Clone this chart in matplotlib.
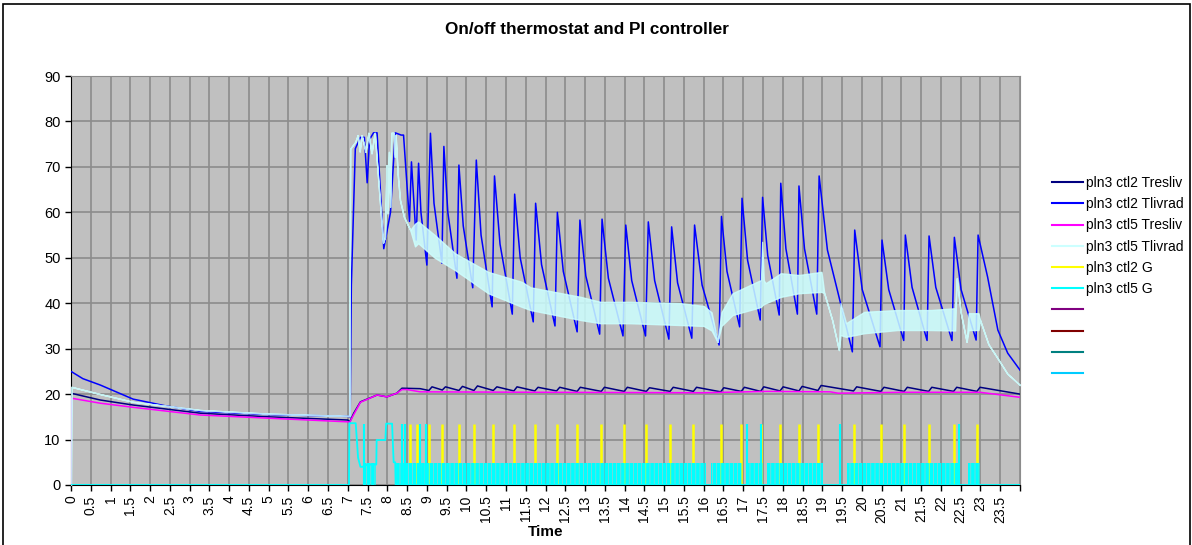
"""On/off thermostat and PI controller - temperatures and gains over a day"""
import matplotlib
matplotlib.use("Agg")
import matplotlib.pyplot as plt
from matplotlib.lines import Line2D
from matplotlib.patches import Rectangle
import numpy as np

plt.rcParams['font.family'] = ['Liberation Sans', 'DejaVu Sans']
plt.rcParams['hatch.linewidth'] = 2.6

# ---- data (time in hours) ----
# pln3 ctl2 Tresliv
res2_t = [0, 0.74, 1.57, 3.27, 5, 7.0, 7.05, 7.15, 7.32, 7.74, 7.99, 8.24, 8.37, 8.83,
          9.05, 9.13, 9.39, 9.47, 9.81, 9.9, 10.19, 10.28, 10.68, 10.77, 11.2, 11.28,
          11.73, 11.81, 12.28, 12.36, 12.8, 12.88, 13.41, 13.49, 13.99, 14.07, 14.55, 14.63,
          15.15, 15.23, 15.74, 15.82, 16.43, 16.51, 16.95, 17.03, 17.44, 17.52, 17.93, 18.01,
          18.41, 18.49, 18.89, 18.97, 19.79, 19.87, 20.48, 20.56, 21.07, 21.15, 21.69, 21.77,
          22.32, 22.4, 22.91, 22.99, 24.0]
res2_v = [20.2, 18.7, 17.6, 15.8, 15.0, 14.3, 13.9, 15.8, 18.3, 19.8, 19.4, 20.2, 21.3, 21.2,
          20.8, 21.6, 20.9, 21.6, 20.8, 21.7, 20.8, 21.8, 20.8, 21.6, 20.7, 21.6,
          20.7, 21.5, 20.7, 21.5, 20.6, 21.5, 20.6, 21.5, 20.6, 21.5, 20.6, 21.4,
          20.6, 21.5, 20.6, 21.5, 20.5, 21.4, 20.6, 21.5, 20.6, 21.6, 20.7, 21.6,
          20.7, 21.7, 20.8, 21.9, 20.7, 21.6, 20.6, 21.5, 20.6, 21.5, 20.6, 21.5,
          20.6, 21.5, 20.6, 21.5, 20.0]

# pln3 ctl2 Tlivrad
liv2_t = [0, 0.3, 0.74, 1.57, 2.4, 3.27, 5, 7.0, 7.06, 7.09, 7.19, 7.32, 7.42, 7.49, 7.55, 7.65,
          7.74, 7.91, 8.08, 8.2, 8.35, 8.41, 8.56, 8.61, 8.73, 8.79, 8.85, 9.0,
          9.09, 9.18, 9.38, 9.43, 9.53, 9.76, 9.81, 9.92, 10.16, 10.25, 10.37, 10.65,
          10.71, 10.85, 11.16, 11.22, 11.36, 11.69, 11.75, 11.9, 12.24, 12.3, 12.45, 12.8,
          12.87, 13.02, 13.37, 13.43, 13.59, 13.96, 14.03, 14.18, 14.53, 14.6, 14.76, 15.12,
          15.19, 15.34, 15.7, 15.77, 15.96, 16.39, 16.45, 16.59, 16.91, 16.97, 17.11, 17.43,
          17.49, 17.62, 17.91, 17.95, 18.08, 18.37, 18.41, 18.55, 18.86, 18.92, 19.13, 19.38,
          19.76, 19.82, 20.01, 20.46, 20.51, 20.68, 21.06, 21.1, 21.27, 21.65, 21.7, 21.87,
          22.28, 22.34, 22.51, 22.89, 22.94, 23.18, 23.44, 23.69, 24.0]
liv2_v = [25.0, 23.4, 22.0, 18.9, 17.4, 16.2, 15.5, 15.1, 15.0, 44.0, 74.0, 76.5, 76.5, 66.5, 76.0, 77.5,
          77.5, 52.0, 60.0, 77.5, 77.0, 77.0, 58.0, 71.1, 53.9, 70.8, 60.0, 48.4,
          77.4, 62.0, 48.8, 74.5, 60.0, 45.5, 70.4, 57.0, 43.4, 71.5, 55.0, 39.2,
          68.0, 53.0, 37.6, 64.0, 50.0, 35.9, 62.0, 48.5, 35.0, 60.0, 47.0, 33.7,
          58.3, 46.0, 33.2, 58.5, 45.5, 32.8, 57.2, 45.0, 32.8, 57.9, 45.0, 32.1,
          56.8, 44.5, 32.3, 57.2, 44.0, 30.8, 59.1, 47.0, 34.8, 63.1, 49.5, 36.3,
          63.3, 50.5, 37.4, 66.4, 52.0, 37.6, 65.8, 52.0, 37.6, 68.0, 51.7, 42.9,
          29.3, 56.1, 43.0, 30.4, 53.9, 43.0, 31.8, 55.0, 43.5, 31.8, 54.8, 43.5,
          31.8, 54.5, 43.0, 31.9, 55.0, 45.8, 34.1, 29.0, 25.3]

# pln3 ctl5 Tresliv
res5_t = [0, 0.01, 0.74, 1.57, 3.27, 5, 7.0, 7.05, 7.15, 7.32, 7.74, 7.99, 8.24, 8.37, 8.5,
          8.83, 12.0, 16.0, 17.6, 19.2, 19.4, 21.0, 22.99, 24.0]
res5_v = [0, 19.1, 18.0, 17.1, 15.4, 14.7, 13.9, 13.8, 15.5, 18.2, 19.8, 19.4, 20.2, 21.0, 21.0,
          20.5, 20.4, 20.3, 20.6, 20.5, 20.2, 20.4, 20.4, 19.3]

# pln3 ctl5 Tlivrad : dense oscillation shown as low / high envelope
liv5_t = [0, 0.01, 0.74, 1.57, 3.27, 5, 7.0, 7.04, 7.06, 7.19, 7.25, 7.3, 7.35, 7.45, 7.52,
          7.6, 7.68, 7.89, 7.94, 7.98, 8.0, 8.04, 8.07, 8.1, 8.16, 8.19, 8.21, 8.26, 8.32,
          8.42, 8.58, 8.7, 8.78, 9.2, 9.71, 10.55, 11.4, 11.62, 12.89, 13.39, 14.15, 15.42,
          16.0, 16.2, 16.35, 16.45, 16.73, 17.3, 17.45, 17.48, 17.52, 17.57, 17.95, 18.41,
          18.98, 19.05, 19.25, 19.42, 19.46, 19.6, 20.06, 20.9, 21.75, 22.36, 22.4, 22.5,
          22.65, 22.7, 22.95, 22.99, 23.2, 23.41, 23.68, 24.0]
liv5_lo = [0, 21.6, 20.0, 18.3, 16.5, 15.7, 15.2, 15.2, 74.0, 75.5, 77.0, 73.4, 77.0, 73.3, 77.5,
           73.0, 77.5, 53.3, 54.6, 70.4, 59.8, 73.3, 61.2, 77.5, 77.5, 72.2, 77.0, 68.6, 62.7,
           59.0, 56.1, 52.5, 53.2, 50.0, 47.3, 42.2, 39.2, 38.5, 36.3, 35.6, 35.6, 35.2,
           35.0, 34.0, 31.5, 35.0, 37.4, 38.8, 39.2, 39.5, 39.8, 40.0, 41.4, 42.2,
           42.5, 42.2, 36.3, 29.7, 33.0, 32.6, 33.4, 34.1, 34.1, 34.0, 45.5, 38.0,
           31.5, 34.1, 34.1, 36.3, 31.0, 28.2, 24.5, 22.0]
liv5_hi = [0, 21.6, 20.0, 18.3, 16.5, 15.7, 15.2, 15.2, 74.0, 75.5, 77.0, 73.4, 77.0, 73.3, 77.5,
           73.0, 77.5, 53.3, 54.6, 70.4, 59.8, 73.3, 61.2, 77.5, 77.5, 72.2, 77.0, 68.6, 62.7,
           59.0, 56.1, 57.5, 58.0, 55.0, 51.0, 46.9, 44.7, 43.5, 41.4, 40.3, 40.3, 40.0,
           39.4, 38.0, 31.5, 38.0, 42.2, 44.5, 45.1, 53.5, 45.0, 44.4, 46.6, 46.2,
           46.9, 42.2, 36.3, 29.7, 40.0, 35.6, 38.1, 38.5, 38.5, 38.9, 45.5, 38.0,
           31.5, 37.8, 37.8, 36.3, 31.0, 28.2, 24.5, 22.0]

# pln3 ctl2 G : on pulses
g2_on = [8.57, 8.76, 9.05, 9.39, 9.81, 10.19, 10.68, 11.2, 11.73, 12.28, 12.8, 13.41, 13.99,
         14.55, 15.15, 15.74, 16.43, 16.95, 17.44, 17.93, 18.41, 18.89, 19.79, 20.48, 21.07,
         21.69, 22.32, 22.91]
g2_max = 13.5

# pln3 ctl5 G : start-up trace, full pulses and the dense low-level chatter
g5_t = [0, 7.03, 7.04, 7.2, 7.26, 7.32, 7.37, 7.5, 7.72, 7.73, 7.95, 7.97, 8.12, 8.16, 8.2, 8.21, 24]
g5_v = [0, 0, 13.6, 13.6, 6.0, 4.0, 4.0, 4.5, 4.5, 9.9, 9.9, 13.5, 13.5, 5.0, 5.0, 0, 0]
g5_full = [7.4, 8.37, 8.45, 8.82, 8.97, 17.09, 17.44, 19.45, 22.46]
g5_chatter = [(7.4, 7.72), (8.2, 16.05), (16.18, 16.98), (17.1, 17.49), (17.6, 19.03),
              (19.63, 22.45), (22.68, 23.0)]
g5_chatter_h = 4.8

labels = ['pln3 ctl2 Tresliv', 'pln3 ctl2 Tlivrad', 'pln3 ctl5 Tresliv', 'pln3 ctl5 Tlivrad',
          'pln3 ctl2 G', 'pln3 ctl5 G', ' ', ' ', ' ', ' ']
colors = ['#000080', '#0000FF', '#FF00FF', '#CCFFFF', '#FFFF00', '#00FFFF',
          '#800080', '#800000', '#008080', '#00CCFF']

# ---- figure ----
W, H = 1192, 545
fig = plt.figure(figsize=(W / 100, H / 100), dpi=100)
fig.patches.append(Rectangle((3 / W, -0.02), 1187 / W, 1.02 - 4 / H, transform=fig.transFigure,
                             fill=False, edgecolor='black', linewidth=1.2))
ax = fig.add_axes([71 / W, 1 - 485 / H, (1020 - 71) / W, (485 - 76) / H])
ax.set_facecolor('#C0C0C0')

ax.plot(res2_t, res2_v, color=colors[0], lw=1.1, zorder=3)
ax.plot(liv2_t, liv2_v, color=colors[1], lw=1.1, zorder=3)
ax.plot(res5_t, res5_v, color=colors[2], lw=1.1, zorder=4)
ax.fill_between(liv5_t, liv5_lo, liv5_hi, facecolor=colors[3], edgecolor=colors[3],
                lw=1.0, alpha=0.85, zorder=5)
ax.vlines(g2_on, 0, g2_max, color=colors[4], lw=1.8, zorder=6)
for a, b in g5_chatter:
    ax.fill_between([a, b], 0, g5_chatter_h, facecolor='none', edgecolor=colors[5],
                    hatch='||||', lw=0, zorder=7)
ax.plot(g5_t, g5_v, color=colors[5], lw=1.3, zorder=7)
ax.vlines(g5_full, 0, 13.5, color=colors[5], lw=1.5, zorder=7)

ax.set_xlim(0, 24)
ax.set_ylim(0, 90)
xt = np.arange(0, 24.01, 0.5)
ax.set_xticks(xt)
ax.set_xticklabels(['%g' % v if v < 24 else '' for v in xt], rotation=90, fontsize=10)
ax.set_yticks(np.arange(0, 91, 10))
ax.tick_params(axis='y', labelsize=10.5)
ax.tick_params(direction='out', length=4, color='black', width=1)
ax.grid(True, color='#8C8C8C', lw=1.2)
ax.set_axisbelow(True)
for s in ['top', 'right']:
    ax.spines[s].set_color('#8C8C8C')
for s in ['left', 'bottom']:
    ax.spines[s].set_color('black')

fig.text(587 / W, 1 - 30 / H, 'On/off thermostat and PI controller', ha='center', va='center',
         fontsize=12.3, fontweight='bold')
fig.text(546 / W, 1 - 532 / H, 'Time', ha='center', va='center', fontsize=11, fontweight='bold')

handles = [Line2D([], [], color=c, lw=1.5) for c in colors]
fig.legend(handles, labels, loc='upper left', bbox_to_anchor=(1052 / W, 1 - 176 / H),
           frameon=False, fontsize=10, handlelength=2.2, handletextpad=0.25,
           labelspacing=0.52, borderpad=0, borderaxespad=0)

fig.savefig('out.png', dpi=100)
